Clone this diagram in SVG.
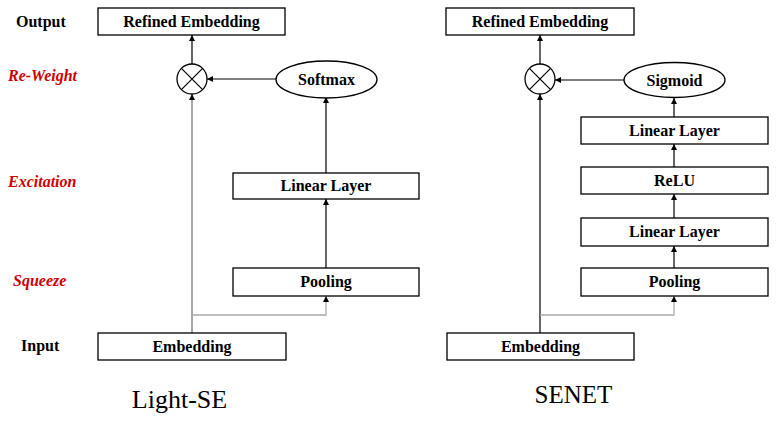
<svg xmlns="http://www.w3.org/2000/svg" width="776" height="423" viewBox="0 0 776 423">
<style>
.box{fill:#fff;stroke:#000;stroke-width:1.3}
.t{font-family:"Liberation Serif",serif;font-weight:bold;font-size:16px;fill:#000;text-anchor:middle}
.lab{font-family:"Liberation Serif",serif;font-weight:bold;font-size:16px;fill:#000}
.red{font-family:"Liberation Serif",serif;font-weight:bold;font-style:italic;font-size:16px;fill:#CC0000}
.cap{font-family:"Liberation Serif",serif;font-size:26px;fill:#000;text-anchor:middle}
.ln{fill:none;stroke:#000;stroke-width:1.2}
.lg{fill:none;stroke:#888;stroke-width:1.5}
.lb{fill:none;stroke:#aaa;stroke-width:1.3}
.cs{fill:#fff;stroke:#000;stroke-width:1.3}
</style>
<defs>
<marker id="ah" viewBox="0 0 10 10" refX="10" refY="5" markerWidth="6" markerHeight="6" markerUnits="userSpaceOnUse" orient="auto">
<path d="M0,0 L10,5 L0,10 z" fill="#000"/>
</marker>
</defs>
<rect width="776" height="423" fill="#fff"/>
<g id="row-labels">
<text class="lab" x="16" y="27">Output</text>
<text class="red" x="8" y="81">Re-Weight</text>
<text class="red" x="8" y="187">Excitation</text>
<text class="red" x="13" y="286">Squeeze</text>
<text class="lab" x="21" y="351">Input</text>
</g>
<g id="connectors">
<line class="lg" x1="192" y1="333" x2="192" y2="94" marker-end="url(#ah)"/>
<polyline class="lb" points="192,315 326,315 326,296" marker-end="url(#ah)"/>
<line class="ln" x1="326" y1="268" x2="326" y2="199" marker-end="url(#ah)"/>
<line class="ln" x1="326" y1="173" x2="326" y2="97" marker-end="url(#ah)"/>
<line class="ln" x1="276" y1="79" x2="207" y2="79" marker-end="url(#ah)"/>
<line class="ln" x1="192" y1="64" x2="192" y2="35" marker-end="url(#ah)"/>
<line class="ln" stroke="#222" x1="540" y1="333" x2="540" y2="94" marker-end="url(#ah)"/>
<polyline class="lb" points="540,315 674,315 674,296" marker-end="url(#ah)"/>
<line class="ln" x1="674" y1="268" x2="674" y2="246" marker-end="url(#ah)"/>
<line class="ln" x1="674" y1="218" x2="674" y2="194" marker-end="url(#ah)"/>
<line class="ln" x1="674" y1="167" x2="674" y2="144" marker-end="url(#ah)"/>
<line class="ln" x1="674" y1="117" x2="674" y2="98" marker-end="url(#ah)"/>
<line class="ln" x1="624" y1="80" x2="555" y2="80" marker-end="url(#ah)"/>
<line class="ln" x1="540" y1="64" x2="540" y2="35" marker-end="url(#ah)"/>
</g>
<g id="l-refined"><rect class="box" x="98" y="8" width="187" height="27"/><text class="t" x="191.5" y="27">Refined Embedding</text></g>
<g id="l-mult"><circle class="cs" cx="192" cy="79" r="15"/><path class="ln" d="M181.4,68.4 L202.6,89.6 M202.6,68.4 L181.4,89.6"/></g>
<g id="l-softmax"><ellipse class="cs" cx="326.5" cy="79.5" rx="50.5" ry="18.5"/><text class="t" x="326.5" y="85">Softmax</text></g>
<g id="l-linear"><rect class="box" x="233" y="173" width="186" height="26"/><text class="t" x="326" y="191">Linear Layer</text></g>
<g id="l-pooling"><rect class="box" x="233" y="268" width="186" height="28"/><text class="t" x="326" y="287">Pooling</text></g>
<g id="l-embedding"><rect class="box" x="98" y="333" width="188" height="27"/><text class="t" x="192" y="352">Embedding</text></g>
<g id="r-refined"><rect class="box" x="446" y="8" width="188" height="27"/><text class="t" x="540" y="27">Refined Embedding</text></g>
<g id="r-mult"><circle class="cs" cx="540" cy="79" r="15"/><path class="ln" d="M529.4,68.4 L550.6,89.6 M550.6,68.4 L529.4,89.6"/></g>
<g id="r-sigmoid"><ellipse class="cs" cx="674.5" cy="80" rx="50.5" ry="17.5"/><text class="t" x="674.5" y="86">Sigmoid</text></g>
<g id="r-linear2"><rect class="box" x="581" y="117" width="187" height="27"/><text class="t" x="674.5" y="136">Linear Layer</text></g>
<g id="r-relu"><rect class="box" x="581" y="167" width="187" height="27"/><text class="t" x="674.5" y="186">ReLU</text></g>
<g id="r-linear1"><rect class="box" x="581" y="218" width="187" height="28"/><text class="t" x="674.5" y="237">Linear Layer</text></g>
<g id="r-pooling"><rect class="box" x="581" y="268" width="187" height="28"/><text class="t" x="674.5" y="287">Pooling</text></g>
<g id="r-embedding"><rect class="box" x="447" y="333" width="187" height="27"/><text class="t" x="540.5" y="352">Embedding</text></g>
<g id="captions">
<text class="cap" x="179.5" y="408">Light-SE</text>
<text class="cap" x="573.5" y="403" style="font-size:25px">SENET</text>
</g>
</svg>
